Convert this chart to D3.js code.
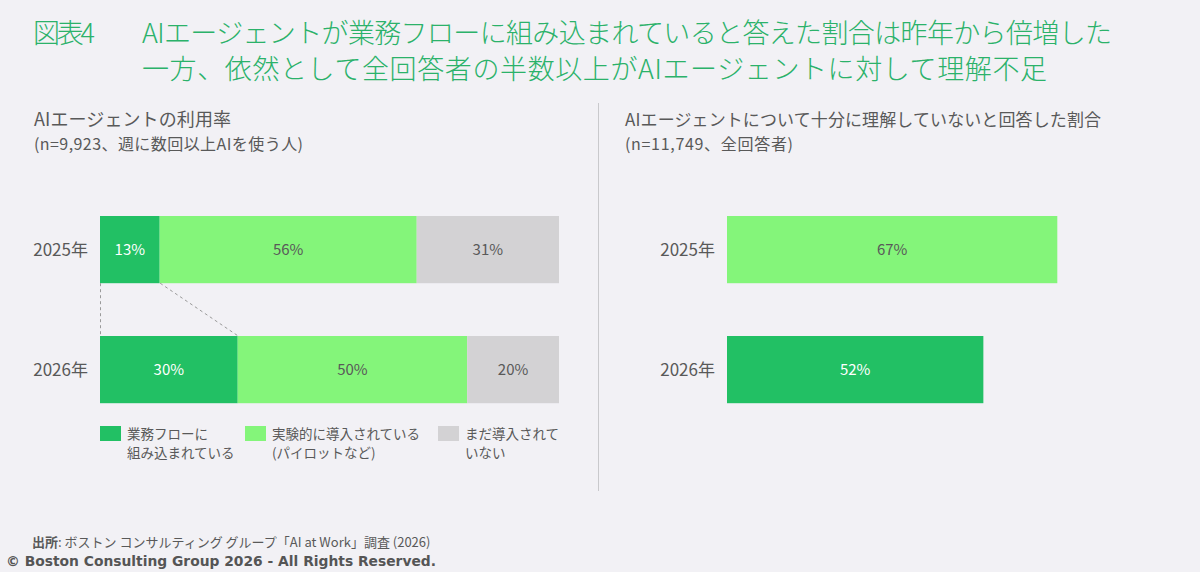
<!DOCTYPE html>
<html>
<head>
<meta charset="utf-8">
<script src="https://cdn.jsdelivr.net/npm/d3@7"></script>
<style>
  body { margin: 0; background: #f2f1f5; }
  svg { display: block; font-family: "Noto Sans CJK JP", "Noto Sans", sans-serif; }
</style>
</head>
<body>
<div id="chart"></div>
<script>
// data
var years = ["2025年", "2026年"];
var seriesNames = ["業務フローに組み込まれている", "実験的に導入されている(パイロットなど)", "まだ導入されていない"];
var embedded = [13, 30];
var pilot = [56, 50];
var notYet = [31, 20];
var notUnderstood = [67, 52];
var legendLines = [["業務フローに", "組み込まれている"], ["実験的に導入されている", "(パイロットなど)"], ["まだ導入されて", "いない"]];

var colors = ["#22c064", "#84f57a", "#d3d2d4"];
var textGray = "#595959";

var W = 1200, H = 572;
var svg = d3.select("#chart").append("svg")
    .attr("width", W)
    .attr("height", H);

// title (thin weight, spread to the widths seen in the slide)
var title = svg.append("g").attr("fill", "#2bb26a")
  .style("font-size", "27px")
  .style("font-family", "'Noto Sans CJK JP Light', 'Noto Sans CJK JP DemiLight', 'Noto Sans CJK JP', sans-serif")
  .style("font-weight", "300");
title.append("text").attr("x", 33).attr("y", 43)
  .attr("textLength", 62).attr("lengthAdjust", "spacing").text("図表4");
title.append("text").attr("x", 142).attr("y", 43)
  .attr("textLength", 970).attr("lengthAdjust", "spacing")
  .text("AIエージェントが業務フローに組み込まれていると答えた割合は昨年から倍増した");
title.append("text").attr("x", 142).attr("y", 79)
  .attr("textLength", 905).attr("lengthAdjust", "spacing")
  .text("一方、依然として全回答者の半数以上がAIエージェントに対して理解不足");

// panel headings
function heading(x, l1, s1, w1, l2, s2, w2) {
  svg.append("text").attr("x", x).attr("y", 126).attr("fill", textGray)
    .style("font-size", s1 + "px")
    .attr("textLength", w1).attr("lengthAdjust", "spacing").text(l1);
  svg.append("text").attr("x", x).attr("y", 150).attr("fill", textGray)
    .style("font-size", s2 + "px")
    .attr("textLength", w2).attr("lengthAdjust", "spacing").text(l2);
}
heading(34, "AIエージェントの利用率", 18, 197, "(n=9,923、週に数回以上AIを使う人)", 16, 269);
heading(625, "AIエージェントについて十分に理解していないと回答した割合", 17, 476, "(n=11,749、全回答者)", 16, 168);

// divider
svg.append("line")
  .attr("x1", 598.5).attr("x2", 598.5).attr("y1", 103).attr("y2", 491)
  .attr("stroke", "#c9c9cc").attr("stroke-width", 1);

// ---- left: stacked bars
var y = d3.scaleBand().domain(years).range([216, 403.2]).paddingInner(0.44).paddingOuter(0);
var xL = d3.scaleLinear().domain([0, 100]).range([100, 559]);

var rows = years.map(function(yr, i) {
  var vals = [embedded[i], pilot[i], notYet[i]];
  var acc = 0;
  return vals.map(function(v, k) {
    var seg = { year: yr, k: k, v: v, x0: acc, x1: acc + v };
    acc += v;
    return seg;
  });
});
var segs = d3.merge(rows);

var left = svg.append("g");
left.selectAll("rect.seg")
  .data(segs)
  .enter().append("rect")
  .attr("class", "seg")
  .attr("x", function(d) { return xL(d.x0); })
  .attr("y", function(d) { return y(d.year); })
  .attr("width", function(d) { return xL(d.x1) - xL(d.x0); })
  .attr("height", y.bandwidth())
  .attr("fill", function(d) { return colors[d.k]; });

left.selectAll("text.val")
  .data(segs)
  .enter().append("text")
  .attr("class", "val")
  .attr("x", function(d) { return (xL(d.x0) + xL(d.x1)) / 2; })
  .attr("y", function(d) { return y(d.year) + y.bandwidth() / 2; })
  .attr("dy", "0.35em")
  .attr("text-anchor", "middle")
  .attr("fill", function(d) { return d.k == 0 ? "#ffffff" : textGray; })
  .style("font-size", "15px")
  .text(function(d) { return d.v + "%"; });

// year labels
left.selectAll("text.yr")
  .data(years)
  .enter().append("text")
  .attr("class", "yr")
  .attr("x", 88)
  .attr("y", function(d) { return y(d) + y.bandwidth() / 2; })
  .attr("dy", "0.35em")
  .attr("text-anchor", "end")
  .attr("fill", textGray)
  .style("font-size", "17px")
  .text(function(d) { return d; });

// dashed connectors for the first segment
var yTop = y(years[0]) + y.bandwidth(), yBot = y(years[1]);
[[0, 0], [embedded[0], embedded[1]]].forEach(function(p) {
  left.append("line")
    .attr("x1", xL(p[0]) + 0.5).attr("y1", yTop)
    .attr("x2", xL(p[1]) + 0.5).attr("y2", yBot)
    .attr("stroke", "#9a9a9a")
    .attr("stroke-width", 1)
    .attr("stroke-dasharray", "3,3");
});

// legend
var legendX = [100, 245, 438];
var lg = svg.append("g").selectAll("g")
  .data(seriesNames)
  .enter().append("g")
  .attr("transform", function(d, i) { return "translate(" + legendX[i] + ",426)"; });
lg.append("rect")
  .attr("width", 21).attr("height", 15)
  .attr("fill", function(d, i) { return colors[i]; });
lg.each(function(d, i) {
  var g = d3.select(this);
  legendLines[i].forEach(function(t, j) {
    g.append("text")
      .attr("x", 27)
      .attr("y", 13 + j * 19)
      .attr("fill", textGray)
      .style("font-size", "13.5px")
      .text(t);
  });
});

// ---- right: simple bars
var xR = d3.scaleLinear().domain([0, 100]).range([727, 1220]);
var right = svg.append("g");
right.selectAll("rect")
  .data(years)
  .enter().append("rect")
  .attr("x", xR(0))
  .attr("y", function(d) { return y(d); })
  .attr("width", function(d, i) { return xR(notUnderstood[i]) - xR(0); })
  .attr("height", y.bandwidth())
  .attr("fill", function(d, i) { return i == 0 ? colors[1] : colors[0]; });

right.selectAll("text.val")
  .data(years)
  .enter().append("text")
  .attr("class", "val")
  .attr("x", function(d, i) { return (xR(0) + xR(notUnderstood[i])) / 2; })
  .attr("y", function(d) { return y(d) + y.bandwidth() / 2; })
  .attr("dy", "0.35em")
  .attr("text-anchor", "middle")
  .attr("fill", function(d, i) { return i == 0 ? textGray : "#ffffff"; })
  .style("font-size", "15px")
  .text(function(d, i) { return notUnderstood[i] + "%"; });

right.selectAll("text.yr")
  .data(years)
  .enter().append("text")
  .attr("class", "yr")
  .attr("x", 715)
  .attr("y", function(d) { return y(d) + y.bandwidth() / 2; })
  .attr("dy", "0.35em")
  .attr("text-anchor", "end")
  .attr("fill", textGray)
  .style("font-size", "17px")
  .text(function(d) { return d; });

// footer
var src = svg.append("text").attr("x", 32).attr("y", 547).attr("fill", textGray).style("font-size", "13px");
src.append("tspan").style("font-weight", "bold").text("出所");
src.append("tspan").text(": ボストン コンサルティング グループ「AI at Work」調査 (2026)");
svg.append("text")
  .attr("x", 6).attr("y", 566)
  .attr("fill", "#555555")
  .style("font-family", "'DejaVu Sans', sans-serif")
  .style("font-size", "14px")
  .style("font-weight", "bold")
  .attr("textLength", 430)
  .attr("lengthAdjust", "spacingAndGlyphs")
  .text("© Boston Consulting Group 2026 - All Rights Reserved.");
</script>
</body>
</html>
